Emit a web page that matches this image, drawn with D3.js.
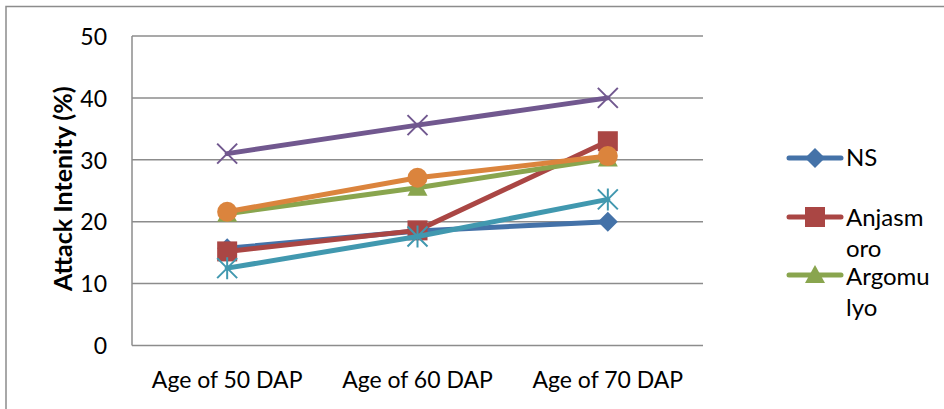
<!DOCTYPE html>
<html><head><meta charset="utf-8">
<script src="https://cdn.jsdelivr.net/npm/d3@7"></script>
<style>body{margin:0;background:#fff}svg{display:block}text{font-family:Lato,"Open Sans",sans-serif}</style>
</head><body><svg id="c" width="944" height="409"></svg>
<script>
const categories = ["Age of 50 DAP","Age of 60 DAP","Age of 70 DAP"];
const seriesNames = ["NS","Anjasmoro","Argomulyo","Series 4","Series 5","Series 6"];
const nsValues = [15.7, 18.5, 20];
const anjasmoroValues = [15.2, 18.6, 33];
const argomulyoValues = [21.3, 25.5, 30.2];
const series4Values = [31, 35.6, 40];
const series5Values = [12.5, 17.6, 23.6];
const series6Values = [21.6, 27.1, 30.6];
const yTicks = [0,10,20,30,40,50];
const legendLines = [["NS"],["Anjasm","oro"],["Argomu","lyo"]];

const colors = ["#4472A8","#AA4644","#89A54E","#71588F","#4198AF","#DB843D"];
const markers = ["diamond","square","triangle","x","star","circle"];
const allValues = [nsValues, anjasmoroValues, argomulyoValues, series4Values, series5Values, series6Values];

const svg = d3.select("#c");
svg.append("rect").attr("x",6).attr("y",6.5).attr("width",1000).attr("height",1000)
  .attr("fill","none").attr("stroke","#8c8c8c").attr("stroke-width",1.5);

const L=132,R=703,T=36,B=345.5;
const x = d3.scaleBand().domain(categories).range([L,R]);
const y = d3.scaleLinear().domain([0,50]).range([B,T]);

svg.append("g").selectAll("line").data(yTicks).join("line")
  .attr("x1",L).attr("x2",R).attr("y1",d=>y(d)).attr("y2",d=>y(d))
  .attr("stroke","#8c8c8c").attr("stroke-width",1.5);
svg.append("line").attr("x1",L).attr("x2",L).attr("y1",T).attr("y2",B)
  .attr("stroke","#8c8c8c").attr("stroke-width",1.5);

const yAxis = svg.append("g").attr("transform",`translate(${L},0)`)
  .call(d3.axisLeft(y).tickValues(yTicks).tickSize(0).tickPadding(25));
yAxis.select(".domain").remove();
yAxis.selectAll("text").attr("font-size",23).attr("fill","#000").attr("dy","0.36em");

const xAxis = svg.append("g").attr("transform",`translate(0,${B})`)
  .call(d3.axisBottom(x).tickSize(0));
xAxis.select(".domain").remove();
xAxis.selectAll("text").attr("font-size",23).attr("fill","#000").attr("y",42.5).attr("dy",0);

svg.append("text").attr("transform",`translate(72,${(T+B)/2 - 2}) rotate(-90)`)
  .attr("text-anchor","middle").attr("font-size",25).attr("font-weight","bold").text("Attack Intenity (%)");

function drawMarker(g, type, cx, cy, color){
  if(type==="diamond"){
    g.append("path").attr("d",`M${cx},${cy-10}L${cx+10},${cy}L${cx},${cy+10}L${cx-10},${cy}Z`).attr("fill",color);
  } else if(type==="square"){
    g.append("rect").attr("x",cx-10).attr("y",cy-10).attr("width",20).attr("height",20).attr("fill",color);
  } else if(type==="triangle"){
    g.append("path").attr("d",`M${cx},${cy-10}L${cx+10},${cy+8}L${cx-10},${cy+8}Z`).attr("fill",color);
  } else if(type==="circle"){
    g.append("circle").attr("cx",cx).attr("cy",cy).attr("r",10).attr("fill",color);
  } else if(type==="x"){
    g.append("path").attr("d",`M${cx-10},${cy-10}L${cx+10},${cy+10}M${cx-10},${cy+10}L${cx+10},${cy-10}`)
      .attr("stroke",color).attr("stroke-width",2);
  } else if(type==="star"){
    g.append("path").attr("d",`M${cx-10},${cy-10}L${cx+10},${cy+10}M${cx-10},${cy+10}L${cx+10},${cy-10}M${cx},${cy-11}L${cx},${cy+11}`)
      .attr("stroke",color).attr("stroke-width",2);
  }
}

const line = d3.line().x((d,i)=>x(categories[i])+x.bandwidth()/2).y(d=>y(d));
[0,1,2,3,4,5].forEach(si=>{
  const g = svg.append("g");
  g.append("path").datum(allValues[si]).attr("d",line).attr("fill","none")
    .attr("stroke",colors[si]).attr("stroke-width",5).attr("stroke-linejoin","round").attr("stroke-linecap","round");
  allValues[si].forEach((v,i)=>drawMarker(g, markers[si], x(categories[i])+x.bandwidth()/2, y(v), colors[si]));
});

const legY = [158, 217, 275];
const legBase = [[166],[226,257],[285,316]];
legendLines.forEach((lines,i)=>{
  const g = svg.append("g");
  g.append("line").attr("x1",789).attr("x2",841).attr("y1",legY[i]).attr("y2",legY[i])
    .attr("stroke",colors[i]).attr("stroke-width",5).attr("stroke-linecap","round");
  drawMarker(g, markers[i], 815, legY[i], colors[i]);
  lines.forEach((t,j)=>{
    g.append("text").attr("x",846).attr("y",legBase[i][j]).attr("font-size",24).text(t);
  });
});
</script></body></html>
